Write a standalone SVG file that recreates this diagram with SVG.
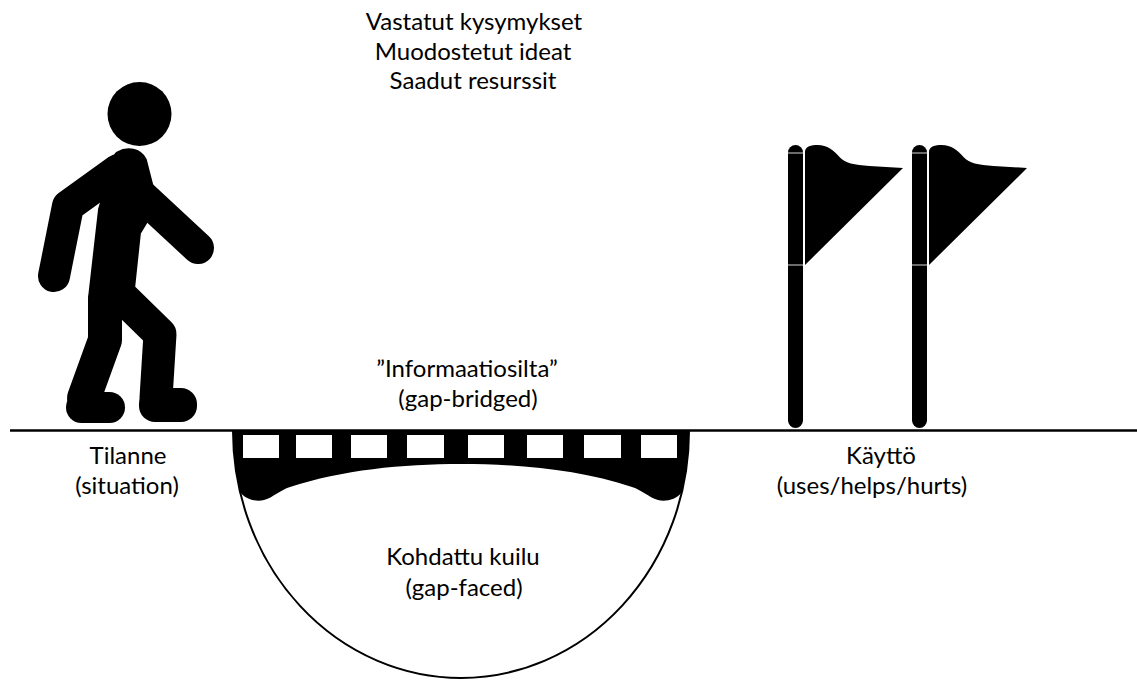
<svg xmlns="http://www.w3.org/2000/svg" width="1137" height="680" viewBox="0 0 1137 680">
  <style>
    .lbl { font-family: Lato, "Liberation Sans", sans-serif; font-size: 24px; fill: #000; text-anchor: middle; }
    .limb { fill: none; stroke: #000; stroke-linecap: round; stroke-linejoin: round; }
    .seam { stroke: #d8d8d8; stroke-width: 1; }
  </style>
  <defs>
    <g id="flag">
      <rect x="-7.5" y="0" width="15" height="283" rx="7.5" fill="#000"/>
      <line class="seam" x1="-7.5" y1="8" x2="7.5" y2="8"/>
      <line class="seam" x1="-7.5" y1="120" x2="7.5" y2="120"/>
      <path d="M9.5,7 C9.5,1 16,0 22,0 C32,0 38,5 44,12 C49,18 59,20 74,21 L107.5,23 L9.5,120 Z" fill="#000"/>
    </g>
  </defs>

  <rect width="1137" height="680" fill="#fff"/>

  <!-- ground line -->
  <line x1="10" y1="430.5" x2="1137" y2="430.5" stroke="#000" stroke-width="2.5"/>

  <!-- the gap -->
  <g id="gap">
    <path d="M233,431 A228,247 0 0 0 689,431" fill="#fff" stroke="#000" stroke-width="2"/>
    <text class="lbl" x="463" y="565">Kohdattu kuilu</text>
    <text class="lbl" x="464" y="596">(gap-faced)</text>
  </g>

  <!-- the bridge -->
  <g id="bridge">
    <path d="M233,430 H689 A228,247 0 0 1 682,492 C676,500 665,502 658,500 C648,497 642,490 632,487 C580,470 520,464 461,464 C402,464 342,470 290,487 C280,490 274,497 264,500 C257,502 246,500 240,492 A228,247 0 0 1 233,430 Z" fill="#000"/>
    <g fill="#fff">
      <rect x="243" y="435" width="36" height="23"/>
      <rect x="296" y="435" width="36" height="23"/>
      <rect x="351" y="435" width="36" height="23"/>
      <rect x="407" y="435" width="37" height="23"/>
      <rect x="468" y="435" width="36" height="23"/>
      <rect x="527" y="435" width="36" height="23"/>
      <rect x="584" y="435" width="37" height="23"/>
      <rect x="641" y="435" width="36" height="23"/>
    </g>
    <text class="lbl" x="467" y="377">”Informaatiosilta”</text>
    <text class="lbl" x="468" y="407">(gap-bridged)</text>
  </g>

  <!-- walking person -->
  <g id="person">
    <circle cx="139.5" cy="114" r="32" fill="#000"/>
    <!-- torso -->
    <path d="M119,156 C128,151 138,153 142,161 L153,204 L136,232 L129,298 L93,298 L103,210 Z" fill="#000" stroke="#000" stroke-width="10" stroke-linejoin="round"/>
    <path class="limb" d="M118,170 L68,206 L54,276" stroke-width="32"/>
    <path class="limb" d="M142,196 L198,248" stroke-width="32"/>
    <path class="limb" d="M105,300 L105,340 L84,398" stroke-width="34"/>
    <rect x="66" y="392" width="59" height="31" rx="15.5" fill="#000"/>
    <path class="limb" d="M115,290 L160,334 L156,398" stroke-width="33"/>
    <rect x="139" y="388" width="58" height="34" rx="16" fill="#000"/>
  </g>

  <g id="situation">
    <text class="lbl" x="128" y="464">Tilanne</text>
    <text class="lbl" x="127" y="494">(situation)</text>
  </g>

  <!-- flags -->
  <g id="flags">
    <use href="#flag" x="795.5" y="145"/>
    <use href="#flag" x="919.5" y="145"/>
  </g>

  <g id="use">
    <text class="lbl" x="881" y="464">Käyttö</text>
    <text class="lbl" x="872" y="494">(uses/helps/hurts)</text>
  </g>

  <g id="outcomes">
    <text class="lbl" x="474" y="30">Vastatut kysymykset</text>
    <text class="lbl" x="473" y="60">Muodostetut ideat</text>
    <text class="lbl" x="473" y="89">Saadut resurssit</text>
  </g>
</svg>
